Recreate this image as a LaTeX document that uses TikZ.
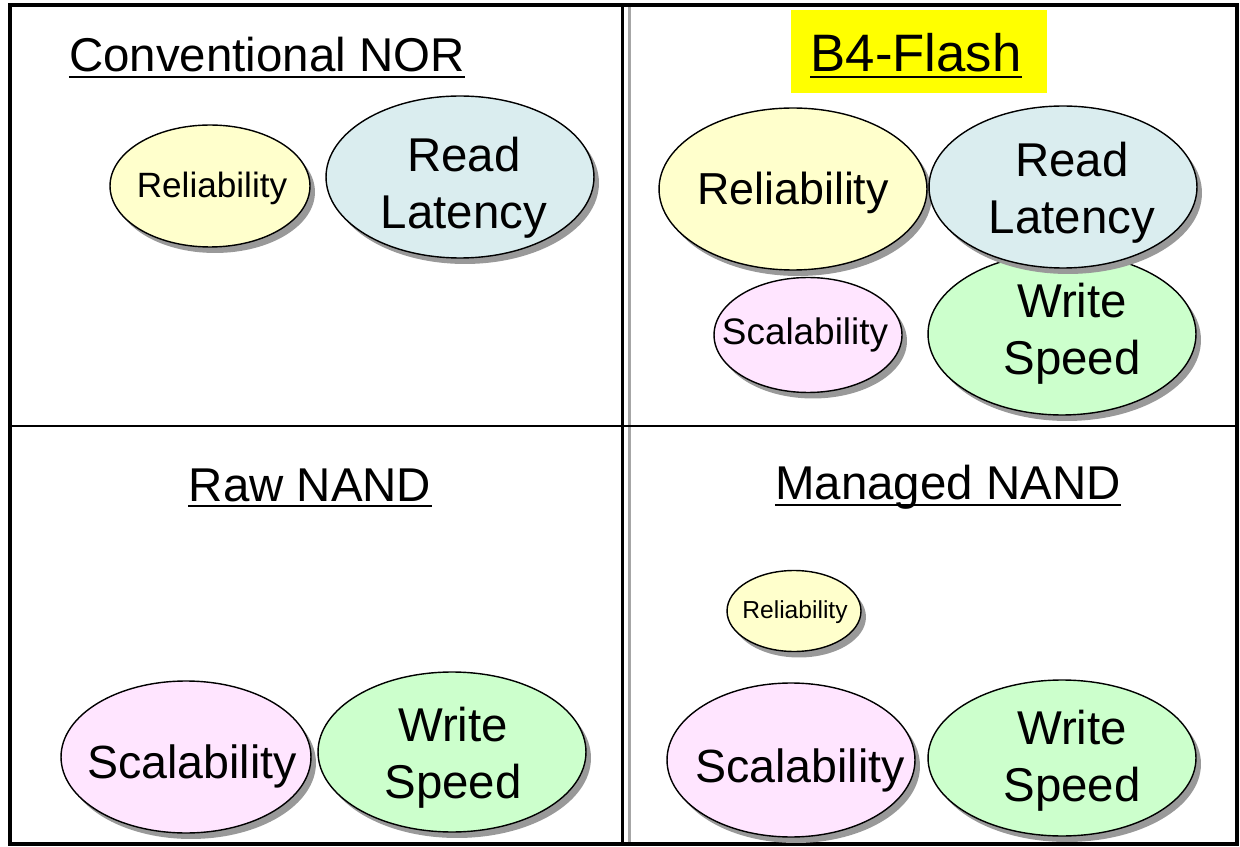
\documentclass[tikz,border=0pt]{standalone}
\usepackage{fontspec}
\setmainfont{Liberation Sans}
\usetikzlibrary{shapes.geometric,shadows}
\definecolor{relfill}{HTML}{FFFFCC}
\definecolor{latfill}{HTML}{DAEDEF}
\definecolor{scafill}{HTML}{FFE5FF}
\definecolor{wrifill}{HTML}{CCFFCC}
\definecolor{hilite}{HTML}{FFFF00}
\newcommand{\ptsize}[1]{\fontsize{#1}{\dimexpr #1*120/100\relax}\selectfont}

\begin{document}
\begin{tikzpicture}[x=0.02cm, y=-0.02cm]
  \tikzset{
    oval/.style={ellipse, draw=black, line width=0.8pt, inner sep=0pt,
      drop shadow={shadow xshift=0.1cm, shadow yshift=-0.12cm, fill=black!40, opacity=1}},
    ovaltext/.style={align=center, inner sep=0pt},
    heading/.style={anchor=base, inner sep=0pt, font=\ptsize{27pt}},
    uline/.style={line width=1.3pt},
    frameline/.style={line width=1.7pt}
  }
  \useasboundingbox (0,0) rectangle (1240,847);

  % frame and dividers
  \draw[line width=1.7pt, black!35] (629,5) -- (629,844);
  \draw[frameline] (10,426) -- (1237,426);
  \draw[frameline] (622,5) -- (622,844);
  \draw[line width=2.2pt] (10,5) rectangle (1237,844);

  % headings
  \fill[hilite] (791,10) rectangle (1047,93);
  \node[heading] (norTitle) at (267,72) {Conventional NOR};
  \node[heading, font=\ptsize{30pt}] (b4Title) at (916,72) {B4-Flash};
  \node[heading] (rawTitle) at (310,501) {Raw NAND};
  \node[heading] (mgdTitle) at (948,500) {Managed NAND};
  \foreach \t in {norTitle,b4Title,rawTitle,mgdTitle}
    \draw[uline] ([yshift=-0.1cm]\t.base west) -- ([yshift=-0.1cm]\t.base east);

  % Conventional NOR
  \node[oval, fill=relfill, minimum width=4cm, minimum height=2.44cm] (norRel) at (210,186) {};
  \node[oval, fill=latfill, minimum width=5.36cm, minimum height=3.24cm] (norLat) at (460,177) {};
  \node[ovaltext, font=\ptsize{20pt}] (norRelTxt) at (212,188) {Reliability};
  \node[ovaltext, font=\ptsize{27pt}] (norLatTxt) at (464,188) {Read\\Latency};

  % B4-Flash
  \node[oval, fill=relfill, minimum width=5.36cm, minimum height=3.24cm] (b4Rel) at (793,189) {};
  \node[oval, fill=wrifill, minimum width=5.36cm, minimum height=3.24cm] (b4Wri) at (1062,334) {};
  \node[oval, fill=latfill, minimum width=5.36cm, minimum height=3.24cm] (b4Lat) at (1063,187) {};
  \node[oval, fill=scafill, minimum width=3.76cm, minimum height=2.3cm] (b4Sca) at (808,335) {};
  \node[ovaltext, font=\ptsize{25.5pt}] (b4RelTxt) at (793,193) {Reliability};
  \node[ovaltext, font=\ptsize{27pt}] (b4LatTxt) at (1072,193) {Read\\Latency};
  \node[ovaltext, font=\ptsize{21pt}] (b4ScaTxt) at (805,335) {Scalability};
  \node[ovaltext, font=\ptsize{27pt}] (b4WriTxt) at (1072,334) {Write\\Speed};

  % Raw NAND
  \node[oval, fill=scafill, minimum width=5cm, minimum height=3.04cm] (rawSca) at (186,757) {};
  \node[oval, fill=wrifill, minimum width=5.36cm, minimum height=3.2cm] (rawWri) at (452,752) {};
  \node[ovaltext, font=\ptsize{26.5pt}] (rawScaTxt) at (192,766) {Scalability};
  \node[ovaltext, font=\ptsize{27pt}] (rawWriTxt) at (453,758) {Write\\Speed};

  % Managed NAND
  \node[oval, fill=relfill, minimum width=2.68cm, minimum height=1.62cm] (mgdRel) at (794,611) {};
  \node[oval, fill=scafill, minimum width=4.96cm, minimum height=3.08cm] (mgdSca) at (791,760) {};
  \node[oval, fill=wrifill, minimum width=5.36cm, minimum height=3.12cm] (mgdWri) at (1062,758) {};
  \node[ovaltext, font=\ptsize{14pt}] (mgdRelTxt) at (795,612) {Reliability};
  \node[ovaltext, font=\ptsize{26.5pt}] (mgdScaTxt) at (800,770) {Scalability};
  \node[ovaltext, font=\ptsize{27pt}] (mgdWriTxt) at (1072,761) {Write\\Speed};
\end{tikzpicture}
\end{document}
